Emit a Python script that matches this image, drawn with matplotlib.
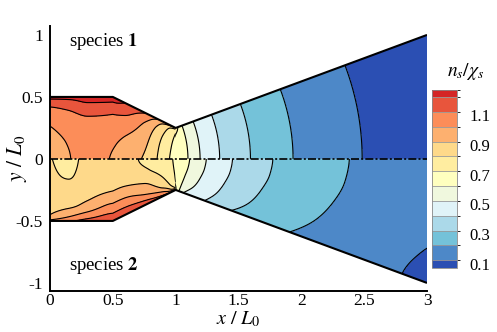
import numpy as np
import matplotlib
matplotlib.use("Agg")
import matplotlib.pyplot as plt
from matplotlib.colors import ListedColormap, BoundaryNorm
from matplotlib.patches import Polygon
import matplotlib.cm as cm
import matplotlib.transforms as mtransforms

plt.rcParams['font.family'] = 'serif'
plt.rcParams['font.serif'] = ['Liberation Serif', 'DejaVu Serif']
plt.rcParams['mathtext.fontset'] = 'stix'

# ---------------- data ----------------
band_colors = ["#2b4fb3", "#4d88c8", "#74c2d9", "#abd9e9", "#e0f3f8", "#f0f8de",
               "#ffffbf", "#ffeda0", "#fed98a", "#fdb06f", "#fc8d59", "#e8553c", "#d42525"]
band_bounds = [0.1, 0.15, 0.25, 0.35, 0.45, 0.55, 0.65, 0.75, 0.85, 0.95, 1.05, 1.15, 1.25, 1.3]
line_levels = [0.15, 0.25, 0.35, 0.45, 0.55, 0.65, 0.75, 0.85, 0.95, 1.05, 1.15, 1.25]
cbar_ticks = [0.1, 0.3, 0.5, 0.7, 0.9, 1.1]
cbar_ticklabels = ["0.1", "0.3", "0.5", "0.7", "0.9", "1.1"]
x_ticks = [0, 0.5, 1, 1.5, 2, 2.5, 3]
x_ticklabels = ["0", "0.5", "1", "1.5", "2", "2.5", "3"]
y_ticks = [-1, -0.5, 0, 0.5, 1]
y_ticklabels = ["-1", "-0.5", "0", "0.5", "1"]

# nozzle geometry (half-width)
inlet_x = [0.0, 0.5, 1.0]
inlet_h = [0.5, 0.5, 0.25]
outlet_x = 3.0
outlet_h = 1.0

# converging part: stations along x, fraction of half-width
conv_x = [0.0, 0.15, 0.3, 0.5, 0.6, 0.75, 0.9, 1.0]
conv_eta = [0.0, 0.25, 0.5, 0.75, 0.9, 1.0]
species1_conv = [
    [1.00, 1.02, 1.045, 1.12, 1.18, 1.30],
    [1.045, 1.055, 1.08, 1.14, 1.20, 1.30],
    [1.09, 1.10, 1.11, 1.17, 1.245, 1.31],
    [1.04, 1.06, 1.10, 1.16, 1.24, 1.30],
    [0.99, 1.02, 1.07, 1.14, 1.20, 1.25],
    [0.94, 0.96, 0.99, 1.04, 1.10, 1.16],
    [0.80, 0.81, 0.83, 0.87, 0.92, 1.02],
    [0.70, 0.71, 0.72, 0.74, 0.77, 0.95],
]
species2_conv = [
    [0.86, 0.88, 0.90, 0.92, 0.95, 1.08],
    [0.82, 0.84, 0.88, 0.93, 1.02, 1.13],
    [0.88, 0.89, 0.91, 0.98, 1.09, 1.19],
    [0.89, 0.90, 0.945, 1.07, 1.165, 1.22],
    [0.87, 0.88, 0.955, 1.08, 1.17, 1.22],
    [0.84, 0.86, 0.94, 1.04, 1.15, 1.20],
    [0.80, 0.81, 0.85, 0.93, 1.07, 1.18],
    [0.73, 0.735, 0.74, 0.75, 0.82, 1.15],
]

# diverging part: arcs about the virtual apex, labelled by their x on the axis
div_x = [0.95, 1.045, 1.1, 1.2, 1.35, 1.5, 1.75, 2.0, 2.25, 2.5, 2.75, 3.0, 3.2]
div_eta = [0.0, 0.25, 0.5, 0.75, 1.0]
species1_div = [
    [0.71, 0.72, 0.76, 0.82, 0.95],
    [0.69, 0.69, 0.70, 0.72, 0.80],
    [0.648, 0.648, 0.648, 0.648, 0.648],
    [0.545, 0.545, 0.545, 0.545, 0.545],
    [0.45, 0.45, 0.45, 0.45, 0.45],
    [0.385, 0.385, 0.385, 0.385, 0.385],
    [0.30, 0.30, 0.30, 0.30, 0.30],
    [0.235, 0.235, 0.235, 0.235, 0.235],
    [0.19, 0.19, 0.19, 0.19, 0.19],
    [0.148, 0.148, 0.148, 0.148, 0.148],
    [0.125, 0.125, 0.125, 0.125, 0.125],
    [0.11, 0.11, 0.11, 0.11, 0.11],
    [0.10, 0.10, 0.10, 0.10, 0.10],
]
species2_div = [
    [0.76, 0.76, 0.775, 0.80, 0.95],
    [0.71, 0.71, 0.71, 0.715, 0.76],
    [0.66, 0.652, 0.633, 0.606, 0.56],
    [0.575, 0.569, 0.555, 0.535, 0.50],
    [0.50, 0.494, 0.478, 0.457, 0.42],
    [0.43, 0.424, 0.41, 0.39, 0.355],
    [0.355, 0.351, 0.34, 0.325, 0.30],
    [0.31, 0.305, 0.294, 0.278, 0.252],
    [0.27, 0.266, 0.255, 0.24, 0.215],
    [0.235, 0.231, 0.222, 0.208, 0.185],
    [0.215, 0.211, 0.20, 0.18, 0.165],
    [0.20, 0.19, 0.175, 0.155, 0.148],
    [0.19, 0.18, 0.165, 0.145, 0.135],
]


# ---------------- smooth (monotone cubic) resampling of the tables ----------------
def pchip(x, y, xn):
    x = np.asarray(x, float)
    y = np.asarray(y, float)
    xn = np.asarray(xn, float)
    h = np.diff(x)
    delta = np.diff(y, axis=0) / h[:, None]
    n = len(x)
    d = np.zeros_like(y)
    for k in range(1, n - 1):
        w1 = 2 * h[k] + h[k - 1]
        w2 = h[k] + 2 * h[k - 1]
        a, b = delta[k - 1], delta[k]
        same = a * b > 0
        with np.errstate(divide='ignore', invalid='ignore'):
            val = (w1 + w2) / (w1 / a + w2 / b)
        d[k] = np.where(same, val, 0.0)

    def end(h0, h1, d0, d1):
        e = ((2 * h0 + h1) * d0 - h0 * d1) / (h0 + h1)
        e = np.where(np.sign(e) != np.sign(d0), 0.0, e)
        e = np.where((np.sign(d0) != np.sign(d1)) & (np.abs(e) > 3 * np.abs(d0)), 3 * d0, e)
        return e

    if n > 2:
        d[0] = end(h[0], h[1], delta[0], delta[1])
        d[-1] = end(h[-1], h[-2], delta[-1], delta[-2])
    else:
        d[0] = delta[0]
        d[-1] = delta[0]
    idx = np.clip(np.searchsorted(x, xn) - 1, 0, n - 2)
    t = (xn - x[idx]) / h[idx]
    t = t[:, None]
    hh = h[idx][:, None]
    h00 = 2 * t ** 3 - 3 * t ** 2 + 1
    h10 = t ** 3 - 2 * t ** 2 + t
    h01 = -2 * t ** 3 + 3 * t ** 2
    h11 = t ** 3 - t ** 2
    return h00 * y[idx] + h10 * hh * d[idx] + h01 * y[idx + 1] + h11 * hh * d[idx + 1]


def resample(table, s, e, s_new, e_new):
    z = pchip(s, np.asarray(table, float), s_new)          # along stations
    z = pchip(e, z.T, e_new).T                              # across the channel
    return z


# ---------------- figure ----------------
W, H = 497, 332
fig = plt.figure(figsize=(W / 100, H / 100), dpi=100)
ax = fig.add_axes([50 / W, (H - 291) / H, (427 - 50) / W, (291 - 26) / H])
ax.set_xlim(0, 3)
ax.set_ylim(-1.065, 1.072)

cmap = ListedColormap(band_colors)
norm = BoundaryNorm(band_bounds, cmap.N)
fill_levels = [0.0] + band_bounds[1:-1] + [5.0]

apex = inlet_x[-1] - inlet_h[-1] * (outlet_x - inlet_x[-1]) / (outlet_h - inlet_h[-1])
theta_w = np.arctan((outlet_h - inlet_h[-1]) / (outlet_x - inlet_x[-1]))


def draw_region(X, Y, Z, clip_xy):
    poly = Polygon(clip_xy, closed=True, transform=ax.transData)
    cf = ax.contourf(X, Y, Z, levels=fill_levels, colors=band_colors, antialiased=False, zorder=1)
    cf.set_clip_path(poly)
    cl = ax.contour(X, Y, Z, levels=line_levels, colors='k', linewidths=0.8, zorder=2)
    cl.set_clip_path(poly)


xs_fine = np.linspace(conv_x[0], conv_x[-1], 121)
es_fine = np.linspace(0, 1, 61)
rs_fine = np.linspace(div_x[0], div_x[-1], 181)

for sign, conv_vals, div_vals in [(1, species1_conv, species1_div), (-1, species2_conv, species2_div)]:
    # converging part
    Zc = resample(conv_vals, conv_x, conv_eta, xs_fine, es_fine)
    Xc, Ec = np.meshgrid(xs_fine, es_fine, indexing='ij')
    Yc = sign * Ec * np.interp(Xc, inlet_x, inlet_h)
    clip_c = [(0, 0)] + [(x, sign * h) for x, h in zip(inlet_x, inlet_h)] + [(inlet_x[-1], 0)]
    draw_region(Xc, Yc, Zc, clip_c)
    # diverging part
    Zd = resample(div_vals, div_x, div_eta, rs_fine, es_fine)
    R = rs_fine[:, None] - apex
    T = es_fine[None, :] * theta_w
    Xd = apex + R * np.cos(T)
    Yd = sign * R * np.sin(T)
    x0 = inlet_x[-1] - 0.004
    clip_d = [(x0, 0), (x0, sign * (x0 - apex) * np.tan(theta_w)), (outlet_x, sign * outlet_h), (outlet_x, 0)]
    draw_region(Xd, Yd, Zd, clip_d)

# walls
wall_x = inlet_x + [outlet_x]
wall_h = inlet_h + [outlet_h]
ax.plot(wall_x, wall_h, color='k', lw=1.5, zorder=4, solid_capstyle='butt')
ax.plot(wall_x, [-h for h in wall_h], color='k', lw=1.5, zorder=4, solid_capstyle='butt')
# centreline
ax.plot([0, outlet_x], [0, 0], color='k', lw=1.2, dashes=(4.8, 1.3, 1.2, 1.3), zorder=5)

# axes styling
for s in ['top', 'right']:
    ax.spines[s].set_visible(False)
for s in ['left', 'bottom']:
    ax.spines[s].set_linewidth(1.4)
ax.set_xticks(x_ticks)
ax.set_xticklabels(x_ticklabels)
ax.set_yticks(y_ticks)
ax.set_yticklabels(y_ticklabels)
ax.tick_params(length=0, labelsize=12.5, pad=5)
ax.tick_params(axis='x', pad=1.5)
ax.set_xlabel(r'$x\ /\ L_0$', fontsize=14.5)
ax.xaxis.set_label_coords(0.5, -0.072)
ax.set_ylabel(r'$y\ /\ L_0$', fontsize=15.5)
ax.yaxis.set_label_coords(-0.055, 0.5)

ax.text(0.15, 0.95, r'species $\mathbf{1}$', fontsize=13.5, va='center', ha='left')
ax.text(0.15, -0.86, r'species $\mathbf{2}$', fontsize=13.5, va='center', ha='left')

# colour bar
cax = fig.add_axes([432 / W, (H - 267.7) / H, 25 / W, 178 / H])
sm = cm.ScalarMappable(norm=norm, cmap=cmap)
cb = fig.colorbar(sm, cax=cax, boundaries=band_bounds, spacing='proportional', drawedges=True)
cb.set_ticks(cbar_ticks)
cb.set_ticklabels(cbar_ticklabels)
cb.ax.tick_params(length=0, labelsize=12, pad=9)
cb.outline.set_edgecolor('#888888')
cb.outline.set_linewidth(0.6)
cb.dividers.set_color('#999999')
cb.dividers.set_linewidth(0.6)
offset = mtransforms.ScaledTranslation(0, 4 / 100, fig.dpi_scale_trans)
for lab in cb.ax.get_yticklabels():
    lab.set_transform(lab.get_transform() + offset)
fig.text(466 / W, 1 - 71 / H, r'$n_s/\chi_s$', fontsize=14, ha='center', va='center')

fig.savefig('out.png', dpi=100)
